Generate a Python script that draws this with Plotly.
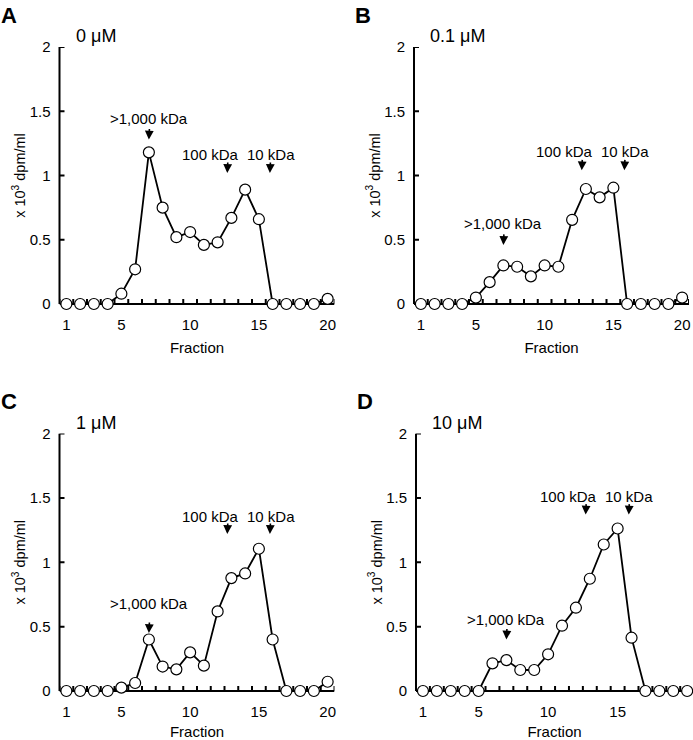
import plotly.graph_objects as go

# ---------------- data ----------------
fractions = list(range(1, 21))
panel_letters = ["A", "B", "C", "D"]
concentrations = ["0 μM", "0.1 μM", "1 μM", "10 μM"]

dpm_0uM = [0, 0, 0, 0, 0.08, 0.27, 1.18, 0.75, 0.52, 0.56, 0.46, 0.48, 0.67, 0.89, 0.66, 0, 0, 0, 0, 0.04]
dpm_01uM = [0, 0, 0, 0, 0.05, 0.17, 0.30, 0.29, 0.215, 0.30, 0.29, 0.655, 0.895, 0.83, 0.905, 0, 0, 0, 0, 0.05]
dpm_1uM = [0, 0, 0, 0, 0.026, 0.062, 0.40, 0.19, 0.168, 0.30, 0.197, 0.618, 0.877, 0.913, 1.105, 0.40, 0, 0, 0, 0.072]
dpm_10uM = [0, 0, 0, 0, 0, 0.215, 0.24, 0.163, 0.163, 0.285, 0.507, 0.647, 0.872, 1.138, 1.262, 0.414, 0, 0, 0, 0]
series = [dpm_0uM, dpm_01uM, dpm_1uM, dpm_10uM]

# size standards
standard_names = [">1,000 kDa", "100 kDa", "10 kDa"]
standard_fraction = [7, 12.7, 15.8]
standard_label_fraction = [7, 11.45, 15.85]
arrow_tip_y = [
    [1.28, 1.02, 1.02],
    [0.46, 1.04, 1.04],
    [0.45, 1.22, 1.22],
    [0.40, 1.37, 1.37],
]
label_y = [
    [1.44, 1.165, 1.165],
    [0.625, 1.185, 1.185],
    [0.68, 1.355, 1.355],
    [0.555, 1.51, 1.51],
]

x_tick_vals = [1, 5, 10, 15, 20]
x_minor_vals = [k + 0.5 for k in range(0, 21)]
y_tick_vals = [0, 0.5, 1, 1.5, 2]
y_tick_text = ["0", "0.5", "1", "1.5", "2"]

# ---------------- layout geometry ----------------
W, H = 693, 740
x_domains = [(59.5, 334.5), (414, 689), (59.5, 334.5), (416, 693)]
y_domains = [(47, 304), (47, 304), (433.5, 691), (433.5, 691)]
x_ranges = [[0.5, 20.5], [0.5, 20.5], [0.5, 20.5], [0.5, 20.42]]
TICK_PX = 5

FONT = "Liberation Sans, Arial, sans-serif"

fig = go.Figure()
layout = dict(
    width=W, height=H,
    margin=dict(l=0, r=0, t=0, b=0, autoexpand=False),
    paper_bgcolor="white", plot_bgcolor="white",
    showlegend=False,
    font=dict(family=FONT, color="black", size=14),
)
annotations = []
shapes = []

for i in range(4):
    sfx = "" if i == 0 else str(i + 1)
    xa, ya = "x" + sfx, "y" + sfx
    fig.add_trace(go.Scatter(
        x=fractions, y=series[i], xaxis=xa, yaxis=ya,
        mode="lines+markers", cliponaxis=False,
        line=dict(color="black", width=1.8),
        marker=dict(symbol="circle", size=11, color="white",
                    line=dict(color="black", width=1.2)),
    ))
    x0, x1 = x_domains[i]
    yt, yb = y_domains[i]
    xr = x_ranges[i]
    layout["xaxis" + sfx] = dict(
        domain=[x0 / W, x1 / W], anchor=ya, range=xr,
        automargin=False, layer="below traces",
        showline=False, showgrid=False, zeroline=False,
        tickmode="array", tickvals=x_tick_vals, ticks="",
        ticklabelstandoff=10,
        tickfont=dict(size=15, family=FONT),
        title=dict(text="Fraction", font=dict(size=15, family=FONT), standoff=10),
    )
    layout["yaxis" + sfx] = dict(
        domain=[(H - yb) / H, (H - yt) / H], anchor=xa, range=[0, 2],
        automargin=False, layer="below traces",
        showline=False, showgrid=False, zeroline=False,
        tickmode="array", tickvals=y_tick_vals, ticktext=y_tick_text,
        ticks="", ticklabelstandoff=8,
        tickfont=dict(size=15, family=FONT),
        title=dict(text="x 10<sup>3</sup> dpm/ml", font=dict(size=14.5, family=FONT), standoff=0),
    )
    # x axis line with inside ticks at half fractions (one path, x in data units)
    tx = TICK_PX / (yb - yt)
    p = "M %g,0 L %g,0" % (xr[0], xr[1])
    for v in x_minor_vals:
        if xr[0] <= v <= xr[1]:
            p += " M %g,0 L %g,%g" % (v, v, tx)
    shapes.append(dict(type="path", xref=xa, yref=ya + " domain", path=p,
                       line=dict(color="black", width=2), layer="below"))
    # y axis line with inside ticks (one path, y in data units)
    ty = TICK_PX / (x1 - x0)
    p = "M 0,0 L 0,2"
    for v in y_tick_vals:
        p += " M 0,%g L %g,%g" % (v, ty, v)
    shapes.append(dict(type="path", xref=xa + " domain", yref=ya, path=p,
                       line=dict(color="black", width=2), layer="below"))
    # panel letter
    annotations.append(dict(
        xref="paper", yref="paper", x=(x0 - 61) / W, y=(H - (yt - 32)) / H,
        text="<b>%s</b>" % panel_letters[i], showarrow=False,
        xanchor="left", yanchor="middle", font=dict(size=22, family=FONT),
    ))
    # concentration label
    annotations.append(dict(
        xref="paper", yref="paper", x=(x0 + 14) / W, y=(H - (yt - 11)) / H,
        text=concentrations[i], showarrow=False,
        xanchor="left", yanchor="middle", font=dict(size=18, family=FONT),
    ))
    # size standards
    for k in range(3):
        annotations.append(dict(
            xref=xa, yref=ya, x=standard_fraction[k], y=arrow_tip_y[i][k],
            ax=0.6, ay=-12, axref="pixel", ayref="pixel",
            text="", showarrow=True, arrowhead=2, arrowsize=1.1,
            arrowwidth=1.6, arrowcolor="black",
        ))
        annotations.append(dict(
            xref=xa, yref=ya, x=standard_label_fraction[k], y=label_y[i][k],
            text=standard_names[k], showarrow=False,
            xanchor="center", yanchor="middle", font=dict(size=15, family=FONT),
        ))

layout["annotations"] = annotations
layout["shapes"] = shapes
fig.update_layout(**layout)
fig.write_html("out.html", config={"displayModeBar": False},
               post_script="document.body.style.margin='0';")
